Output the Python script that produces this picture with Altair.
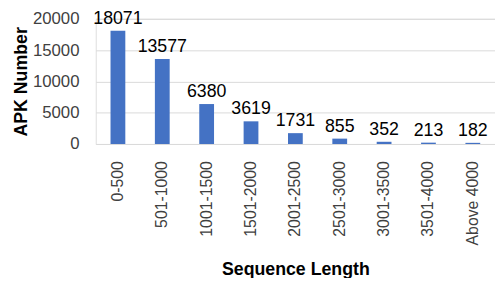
import altair as alt
import pandas as pd

categories = ["0-500", "501-1000", "1001-1500", "1501-2000", "2001-2500",
              "2501-3000", "3001-3500", "3501-4000", "Above 4000"]
counts = [18071, 13577, 6380, 3619, 1731, 855, 352, 213, 182]
y_ticks = [0, 5000, 10000, 15000, 20000]

df = pd.DataFrame({"cat": categories, "n": counts})

x = alt.X("cat:N", sort=categories, title="Sequence Length",
          scale=alt.Scale(paddingInner=0, paddingOuter=0),
          axis=alt.Axis(labelAngle=-90, labelAlign="right", labelBaseline="middle",
                        labelFontSize=16, labelFont="Liberation Sans", labelColor="#404040",
                        labelPadding=17, ticks=False, domain=False, labelOverlap=False,
                        titleFontSize=18, titleFont="Liberation Sans", titleFontWeight="bold",
                        titleColor="#000000", titlePadding=16))
y = alt.Y("n:Q", title="APK Number",
          scale=alt.Scale(domain=[0, 20000], nice=False),
          axis=alt.Axis(values=y_ticks, format="d",
                        labelFontSize=17, labelFont="Liberation Sans", labelColor="#404040",
                        labelPadding=17, ticks=False, tickSize=0, domain=False,
                        labelOverlap=False, labelFlush=False,
                        gridColor="#d9d9d9", gridWidth=1,
                        titleFontSize=18, titleFont="Liberation Sans", titleFontWeight="bold",
                        titleColor="#000000", titlePadding=2))

base = alt.Chart(df).encode(x=x, y=y)
bars = base.mark_bar(size=15, color="#4472C4")
labels = base.mark_text(dy=-3, baseline="bottom", fontSize=18,
                        font="Liberation Sans", color="#000000").encode(text="n:Q")

chart = (bars + labels).properties(
    width=405, height=127,
    autosize=alt.AutoSizeParams(type="none"),
    padding={"left": 89, "top": 9, "right": 0, "bottom": 134},
).configure_view(stroke=None).configure(background="white")

chart.save("out.html", embed_options={"renderer": "svg", "actions": False})
